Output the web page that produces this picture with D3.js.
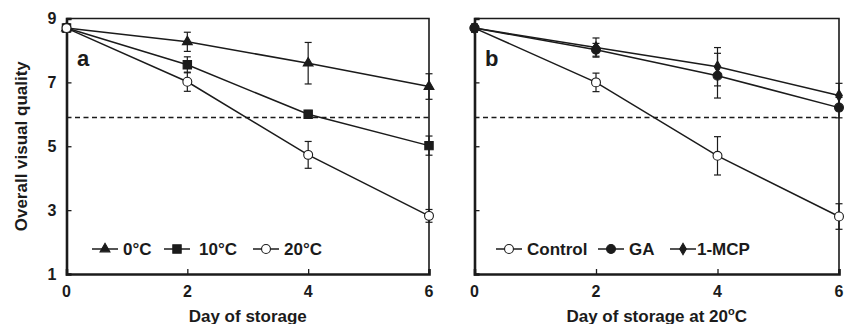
<!DOCTYPE html>
<html>
<head>
<meta charset="utf-8">
<script src="https://cdn.jsdelivr.net/npm/d3@7"></script>
<style>
  body { margin: 0; background: #fff; }
  svg { display: block; font-family: "Liberation Sans", Arial, sans-serif; font-weight: bold; }
</style>
</head>
<body>
<figure style="margin:0"></figure>
<script>
// data
const days = [0, 2, 4, 6]
const yTicks = [1, 3, 5, 7, 9]
const threshold = 5.9

const tempNames = ["0°C", "10°C", "20°C"]
const temp0 = [8.7, 8.27, 7.6, 6.87]
const temp0Err = [0.12, 0.3, 0.65, 0.4]
const temp10 = [8.7, 7.55, 6.0, 5.02]
const temp10Err = [0.12, 0.25, 0.12, 0.3]
const temp20 = [8.7, 7.02, 4.73, 2.82]
const temp20Err = [0.12, 0.3, 0.42, 0.2]

const treatNames = ["Control", "GA", "1-MCP"]
const control = [8.7, 7.0, 4.7, 2.8]
const controlErr = [0.12, 0.29, 0.6, 0.4]
const ga = [8.7, 8.02, 7.21, 6.21]
const gaErr = [0.12, 0.2, 0.7, 0.32]
const mcp = [8.7, 8.09, 7.49, 6.59]
const mcpErr = [0.12, 0.3, 0.6, 0.38]

const W = 846, H = 324
const svg = d3.select("figure").append("svg").attr("width", W).attr("height", H)
const ink = "#1b1b1b"

const y = d3.scaleLinear().domain([1, 9]).range([274, 18.5])

const markers = {
    triangle: {type: d3.symbolTriangle, size: 42, fill: ink},
    square: {type: d3.symbolSquare, size: 70, fill: ink},
    open: {type: d3.symbolCircle, size: 62, fill: "#fff"},
    dot: {type: d3.symbolCircle, size: 62, fill: ink},
    diamond: {type: d3.symbolDiamond, size: 38, fill: ink}
}

function panel(x0, x1, letter, series, xTitle, legendPos, showYLabels) {
    const x = d3.scaleLinear().domain([0, 6]).range([x0, x1])
    const g = svg.append("g")

    // frame top/right
    g.append("path").attr("d", `M${x0},${y(9)}H${x1}V${y(1)}`)
        .attr("fill", "none").attr("stroke", ink).attr("stroke-width", 1.6)

    // threshold
    g.append("line").attr("x1", x0).attr("x2", x1).attr("y1", y(threshold)).attr("y2", y(threshold))
        .attr("stroke", ink).attr("stroke-width", 1.5).attr("stroke-dasharray", "5,3.5")

    const yAxis = g.append("g").attr("transform", `translate(${x0},0)`)
        .call(d3.axisRight(y).tickValues(yTicks).tickSize(5).tickFormat(""))
    const xAxis = g.append("g").attr("transform", `translate(0,${y(1)})`)
        .call(d3.axisTop(x).tickValues(days).tickSize(5).tickFormat(""))
    for (const ax of [yAxis, xAxis]) {
        ax.select(".domain").attr("stroke", ink).attr("stroke-width", 2.6)
        ax.selectAll(".tick line").attr("stroke", ink).attr("stroke-width", 1.3)
    }

    if (showYLabels) {
        g.selectAll("text.ylab").data(yTicks).enter().append("text").classed("ylab", true)
            .attr("x", x0 - 10).attr("y", d => y(d)).attr("dy", "0.36em")
            .attr("text-anchor", "end").attr("font-size", 16).attr("fill", ink)
            .text(d => d)
    }
    g.selectAll("text.xlab").data(days).enter().append("text").classed("xlab", true)
        .attr("x", d => x(d)).attr("y", y(1) + 22.5)
        .attr("text-anchor", "middle").attr("font-size", 16).attr("fill", ink)
        .text(d => d)

    const title = g.append("text").attr("x", (x0 + x1) / 2).attr("y", 321.5)
        .attr("text-anchor", "middle").attr("font-size", 17).attr("fill", ink)
        .text(xTitle[0])
    if (xTitle.length > 1) {
        title.append("tspan").attr("font-size", 11).attr("dy", -7).text(xTitle[1])
        title.append("tspan").attr("dy", 7).text(xTitle[2])
    }

    g.append("text").attr("x", x0 + 10.5).attr("y", 65.5)
        .attr("font-size", 22).attr("fill", ink).text(letter)

    const line = d3.line().x((d, i) => x(days[i])).y(d => y(d))
    for (const s of series) {
        g.append("path").attr("d", line(s.values)).attr("fill", "none")
            .attr("stroke", ink).attr("stroke-width", 1.5)
    }
    for (const s of series) {
        const eb = g.append("g").attr("stroke", ink).attr("stroke-width", 1.2)
        s.values.forEach((v, i) => {
            const cx = x(days[i]), lo = y(v - s.err[i]), hi = y(v + s.err[i])
            eb.append("line").attr("x1", cx).attr("x2", cx).attr("y1", lo).attr("y2", hi)
            eb.append("line").attr("x1", cx - 3.5).attr("x2", cx + 3.5).attr("y1", lo).attr("y2", lo)
            eb.append("line").attr("x1", cx - 3.5).attr("x2", cx + 3.5).attr("y1", hi).attr("y2", hi)
        })
    }
    for (const s of series) {
        const m = markers[s.marker]
        g.selectAll(null).data(s.values).enter().append("path")
            .attr("d", d3.symbol().type(m.type).size(m.size))
            .attr("transform", (d, i) => `translate(${x(days[i])},${y(d)})`)
            .attr("fill", m.fill).attr("stroke", ink).attr("stroke-width", 1.1)
    }

    // legend
    series.forEach((s, i) => {
        const [mx, tx] = legendPos[i], ly = 249
        const m = markers[s.marker]
        g.append("line").attr("x1", mx - 13).attr("x2", mx + 13).attr("y1", ly).attr("y2", ly)
            .attr("stroke", ink).attr("stroke-width", 1.5)
        g.append("path").attr("d", d3.symbol().type(m.type).size(m.size))
            .attr("transform", `translate(${mx},${ly})`)
            .attr("fill", m.fill).attr("stroke", ink).attr("stroke-width", 1.1)
        g.append("text").attr("x", tx).attr("y", ly).attr("dy", "0.36em")
            .attr("font-size", 17).attr("fill", ink).text(s.name)
    })
}

panel(66.5, 429, "a", [
    {name: tempNames[0], values: temp0, err: temp0Err, marker: "triangle"},
    {name: tempNames[1], values: temp10, err: temp10Err, marker: "square"},
    {name: tempNames[2], values: temp20, err: temp20Err, marker: "open"}
], ["Day of storage"], [[105, 123], [177, 199], [266, 284]], true)

panel(474.5, 839, "b", [
    {name: treatNames[0], values: control, err: controlErr, marker: "open"},
    {name: treatNames[1], values: ga, err: gaErr, marker: "dot"},
    {name: treatNames[2], values: mcp, err: mcpErr, marker: "diamond"}
], ["Day of storage at 20", "o", "C"], [[509, 527], [611, 629], [683, 697]], false)

svg.append("text")
    .attr("transform", `translate(26.5,${(y(1) + y(9)) / 2}) rotate(-90)`)
    .attr("text-anchor", "middle").attr("font-size", 17).attr("fill", ink)
    .text("Overall visual quality")
</script>
</body>
</html>
